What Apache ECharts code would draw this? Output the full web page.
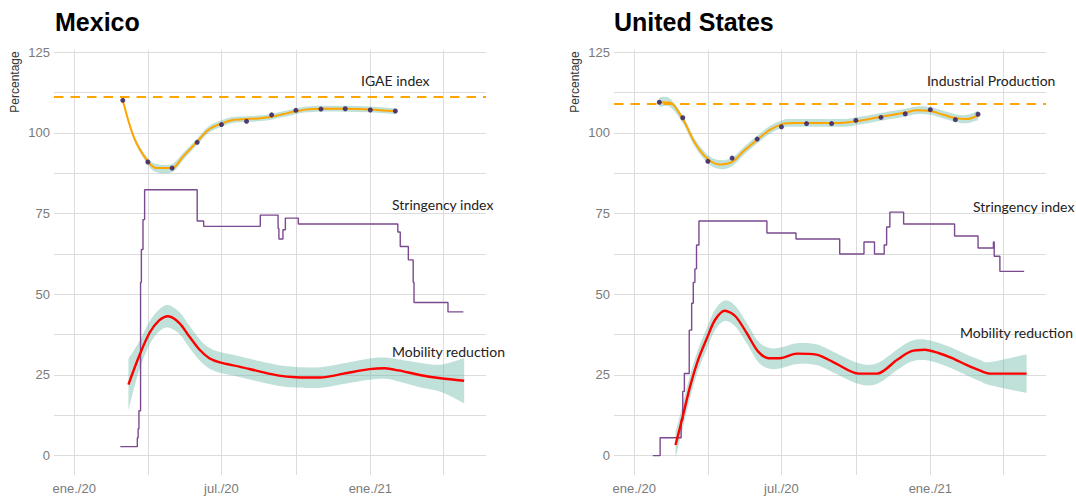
<!DOCTYPE html>
<html>
<head>
<meta charset="utf-8">
<title>Mexico / United States</title>
<script src="https://cdn.jsdelivr.net/npm/echarts@6.0.0/dist/echarts.min.js"></script>
<style>
    html, body { margin: 0; padding: 0; background: #fff; }
    #chart { width: 1076px; height: 500px; }
</style>
</head>
<body>
<div id="chart"></div>
<script>
// ---- axes
const xMin = '2019-12-07';
const xMax = '2021-05-24';
const xTickDates = ['2020-01-01', '2020-04-01', '2020-07-01', '2020-10-01', '2021-01-01', '2021-04-01'];
const xLabelDates = ['2020-01-01', '2020-07-01', '2021-01-01'];
const xLabelText = ['ene./20', 'jul./20', 'ene./21'];
const yTicks = [0, 12.5, 25, 37.5, 50, 62.5, 75, 87.5, 100, 112.5, 125];
const yLabels = [0, 25, 50, 75, 100, 125];

// ---- Mexico
const mxIgaeDates = ['2020-03-01', '2020-04-01', '2020-05-01', '2020-06-01', '2020-07-01', '2020-08-01',
    '2020-09-01', '2020-10-01', '2020-11-01', '2020-12-01', '2021-01-01', '2021-02-01'];
const mxIgae = [110.1, 91.0, 89.1, 97.1, 102.6, 103.6, 105.6, 107.0, 107.4, 107.5, 107.1, 106.8];
const mxIgaeRef = 111.2;
const mxFitDates = ['2020-03-01', '2020-03-15', '2020-04-01', '2020-04-12', '2020-05-01', '2020-05-15',
    '2020-06-01', '2020-06-15', '2020-07-01', '2020-07-15', '2020-08-01', '2020-08-15', '2020-09-01',
    '2020-09-15', '2020-10-01', '2020-10-15', '2020-11-01', '2020-12-01', '2021-01-01', '2021-02-01'];
const mxFit = [110.1, 98.5, 91.2, 89.1, 89.1, 92.8, 97.3, 101.0, 102.9, 104.0, 104.3, 104.5, 105.0,
    105.8, 106.7, 107.3, 107.5, 107.5, 107.3, 106.7];
const mxFitSe = [0.3, 0.8, 1.0, 1.3, 1.3, 1.1, 1.0, 1.0, 1.0, 0.9, 0.9, 0.9, 0.9, 0.9, 0.9, 0.9, 0.9, 0.9, 0.9, 0.9];

const mxStrDates = ['2020-02-27', '2020-03-19', '2020-03-20', '2020-03-21', '2020-03-23', '2020-03-24',
    '2020-03-26', '2020-03-28', '2020-06-01', '2020-06-09', '2020-08-18', '2020-09-09', '2020-09-10',
    '2020-09-15', '2020-09-18', '2020-10-04', '2021-02-04', '2021-02-07', '2021-02-17', '2021-02-23',
    '2021-02-24', '2021-04-07', '2021-04-26'];
const mxStr = [2.78, 5.56, 8.33, 13.89, 53.7, 63.89, 73.15, 82.41, 72.69, 71.06, 74.54, 70.37, 67.13,
    70.0, 73.61, 71.76, 69.3, 64.81, 60.65, 53.7, 47.45, 44.54, 44.54];

const mxMobDates = ['2020-03-08', '2020-03-21', '2020-04-03', '2020-04-15', '2020-04-26', '2020-05-10',
    '2020-05-22', '2020-06-04', '2020-06-16', '2020-06-29', '2020-07-23', '2020-08-17', '2020-09-10',
    '2020-10-01', '2020-10-31', '2020-11-29', '2020-12-31', '2021-01-19', '2021-02-05', '2021-03-03',
    '2021-03-29', '2021-04-27'];
const mxMob = [22.0, 30.7, 38.0, 41.9, 43.2, 41.1, 37.0, 32.8, 30.2, 28.9, 27.6, 26.1, 24.8, 24.3, 24.2,
    25.4, 26.8, 27.1, 26.4, 25.0, 24.0, 23.2];
const mxMobSe = [8.0, 4.5, 3.6, 3.4, 3.5, 3.4, 3.4, 3.3, 3.2, 3.2, 3.2, 3.2, 3.2, 3.2, 3.2, 3.2, 3.3, 3.3,
    3.4, 3.8, 4.2, 7.0];

// ---- United States
const usIgaeDates = ['2020-02-01', '2020-03-01', '2020-04-01', '2020-05-01', '2020-06-01', '2020-07-01',
    '2020-08-01', '2020-09-01', '2020-10-01', '2020-11-01', '2020-12-01', '2021-01-01', '2021-02-01', '2021-03-01'];
const usIgae = [109.5, 104.7, 91.2, 92.2, 98.1, 101.9, 102.9, 102.9, 103.9, 104.8, 105.9, 107.2, 104.1, 105.8];
const usIgaeRef = 109.1;
const usFitDates = ['2020-02-01', '2020-02-14', '2020-03-01', '2020-03-16', '2020-04-01', '2020-04-16',
    '2020-05-01', '2020-05-15', '2020-06-01', '2020-06-17', '2020-07-03', '2020-07-16', '2020-09-11',
    '2020-10-01', '2020-11-01', '2020-12-01', '2020-12-15', '2021-01-01', '2021-01-15', '2021-02-01',
    '2021-02-15', '2021-03-01'];
const usFit = [109.5, 109.4, 104.3, 96.9, 91.9, 90.2, 91.0, 94.3, 97.9, 101.0, 102.8, 103.1, 103.1,
    103.6, 105.0, 106.3, 107.0, 106.8, 105.8, 104.6, 104.3, 105.4];
const usFitSe = [1.5, 1.3, 1.2, 1.2, 1.3, 1.4, 1.3, 1.2, 1.2, 1.2, 1.2, 1.2, 1.2, 1.2, 1.2, 1.2, 1.2,
    1.2, 1.2, 1.2, 1.3, 1.5];

const usStrDates = ['2020-01-24', '2020-02-02', '2020-02-28', '2020-03-01', '2020-03-03', '2020-03-09',
    '2020-03-12', '2020-03-14', '2020-03-16', '2020-03-18', '2020-03-21', '2020-06-13', '2020-07-19',
    '2020-09-11', '2020-10-11', '2020-10-24', '2020-11-05', '2020-11-08', '2020-11-12', '2020-11-29',
    '2021-01-31', '2021-03-01', '2021-03-20', '2021-03-21', '2021-03-28', '2021-04-27'];
const usStr = [0, 5.56, 11.11, 19.91, 25.46, 38.89, 47.22, 53.7, 57.87, 65.28, 72.69, 68.98, 67.13,
    62.5, 66.2, 62.5, 65.28, 70.83, 75.46, 71.76, 68.06, 64.35, 66.2, 61.8, 57.1, 57.1];

const usMobDates = ['2020-02-21', '2020-02-28', '2020-03-10', '2020-03-20', '2020-03-31', '2020-04-10',
    '2020-04-22', '2020-05-05', '2020-05-19', '2020-06-02', '2020-06-15', '2020-06-29', '2020-07-20',
    '2020-08-13', '2020-09-03', '2020-10-05', '2020-10-27', '2020-11-21', '2020-12-08', '2020-12-25',
    '2021-01-11', '2021-01-28', '2021-02-14', '2021-03-03', '2021-03-16', '2021-04-30'];
const usMob = [3.3, 10.1, 21.4, 29.7, 36.5, 42.1, 44.9, 43.2, 38.0, 32.3, 30.2, 30.2, 31.6, 31.3, 29.0,
    25.4, 25.4, 29.7, 32.3, 32.8, 31.8, 30.2, 28.2, 26.4, 25.4, 25.4];
const usMobSe = [4.0, 3.8, 3.5, 3.3, 3.2, 3.2, 3.2, 3.2, 3.2, 3.2, 3.2, 3.2, 3.2, 3.2, 3.2, 3.2, 3.2,
    3.2, 3.2, 3.2, 3.2, 3.2, 3.2, 3.3, 3.6, 6.0];

// ---- styling
const BAND = 'rgba(94,180,160,0.4)';
const ORANGE = '#FFA500';
const PURPLE = '#7b4a8e';
const DOT = '#3d2a68';
const GRID = '#dcdcdc';
const SANS = '"Liberation Sans", Arial, sans-serif';
const NOTE = 'Lato, "Open Sans", sans-serif';

// dates are placed on a numeric axis as timestamps
function ts(s) {
    const p = s.split('-').map(Number);
    return Date.UTC(p[0], p[1] - 1, p[2]);
}
function pairs(dates, vals) {
    return dates.map((d, i) => [ts(d), vals[i]]);
}

// smooth path through pixel points (catmull-rom as cubic bezier)
function curveTo(pts) {
    let d = '';
    const n = pts.length;
    for (let i = 0; i < n - 1; i++) {
        const p0 = pts[Math.max(i - 1, 0)], p1 = pts[i], p2 = pts[i + 1], p3 = pts[Math.min(i + 2, n - 1)];
        const c1 = [p1[0] + (p2[0] - p0[0]) / 6, p1[1] + (p2[1] - p0[1]) / 6];
        const c2 = [p2[0] - (p3[0] - p1[0]) / 6, p2[1] - (p3[1] - p1[1]) / 6];
        d += ' C' + c1.join(' ') + ' ' + c2.join(' ') + ' ' + p2.join(' ');
    }
    return d;
}

// confidence ribbon: upper edge forward, lower edge back
function band(dates, vals, se, idx) {
    const rows = dates.map((d, i) => [ts(d), vals[i] - se[i], vals[i] + se[i]]);
    return {
        type: 'custom', xAxisIndex: idx, yAxisIndex: idx, z: 1, silent: true,
        encode: { x: 0, y: [1, 2] },
        data: rows,
        renderItem: function (params, api) {
            if (params.dataIndex !== 0) return;
            const upper = rows.map(r => api.coord([r[0], r[2]]));
            const lower = rows.map(r => api.coord([r[0], r[1]])).reverse();
            const path = 'M' + upper[0].join(' ') + curveTo(upper)
                + ' L' + lower[0].join(' ') + curveTo(lower) + ' Z';
            return {
                type: 'path',
                shape: { pathData: path, layout: 'center' },
                style: { fill: BAND, stroke: null }
            };
        }
    };
}

function panelSeries(idx, p) {
    return [
        band(p.fitDates, p.fit, p.fitSe, idx),
        band(p.mobDates, p.mob, p.mobSe, idx),
        {
            type: 'line', xAxisIndex: idx, yAxisIndex: idx, z: 2, silent: true,
            step: 'end', symbol: 'none',
            lineStyle: { color: PURPLE, width: 1.4 },
            data: pairs(p.strDates, p.str)
        }, {
            type: 'line', xAxisIndex: idx, yAxisIndex: idx, z: 3, silent: true,
            smooth: 0.3, symbol: 'none',
            lineStyle: { color: ORANGE, width: 2 },
            data: pairs(p.fitDates, p.fit),
            markLine: {
                silent: true, symbol: 'none', label: { show: false },
                lineStyle: { color: ORANGE, type: [9.5, 7], width: 2 },
                data: [{ yAxis: p.ref }]
            }
        }, {
            type: 'line', xAxisIndex: idx, yAxisIndex: idx, z: 3, silent: true,
            smooth: 0.3, symbol: 'none',
            lineStyle: { color: '#ff0000', width: 2.4 },
            data: pairs(p.mobDates, p.mob)
        }, {
            type: 'scatter', xAxisIndex: idx, yAxisIndex: idx, z: 4, silent: true,
            symbolSize: 5, itemStyle: { color: DOT, opacity: 0.9 },
            data: pairs(p.igaeDates, p.igae)
        }
    ];
}

function xAxis(idx) {
    return {
        type: 'value', gridIndex: idx, min: ts(xMin), max: ts(xMax),
        axisLine: { show: false }, axisTick: { show: false, customValues: xTickDates.map(ts) },
        splitLine: { show: true, lineStyle: { color: GRID, width: 1 } },
        axisLabel: {
            customValues: xLabelDates.map(ts), margin: 7,
            color: '#7a7a7a', fontFamily: SANS, fontSize: 13,
            formatter: function (v) {
                const i = xLabelDates.map(ts).indexOf(v);
                return i >= 0 ? xLabelText[i] : '';
            }
        }
    };
}
function yAxis(idx) {
    return {
        type: 'value', gridIndex: idx, min: -6, max: 125.7,
        axisLine: { show: false }, axisTick: { show: false, customValues: yTicks },
        splitLine: { show: true, lineStyle: { color: GRID, width: 1 } },
        axisLabel: { customValues: yLabels, margin: 4, color: '#7a7a7a', fontFamily: SANS, fontSize: 13 }
    };
}

function text(x, y, str, font, fill, align, rotation) {
    return {
        type: 'text', x: x, y: y, silent: true, z: 10, rotation: rotation || 0,
        style: { text: str, font: font, fill: fill, textAlign: align || 'left', textVerticalAlign: 'middle' }
    };
}

const chart = echarts.init(document.getElementById('chart'), null, { renderer: 'svg' });
chart.setOption({
    animation: false,
    backgroundColor: '#fff',
    grid: [
        { left: 54, top: 50, width: 432, height: 425 },
        { left: 614, top: 50, width: 432, height: 425 }
    ],
    xAxis: [xAxis(0), xAxis(1)],
    yAxis: [yAxis(0), yAxis(1)],
    series: [].concat(
        panelSeries(0, {
            igaeDates: mxIgaeDates, igae: mxIgae, ref: mxIgaeRef,
            fitDates: mxFitDates, fit: mxFit, fitSe: mxFitSe,
            strDates: mxStrDates, str: mxStr,
            mobDates: mxMobDates, mob: mxMob, mobSe: mxMobSe
        }),
        panelSeries(1, {
            igaeDates: usIgaeDates, igae: usIgae, ref: usIgaeRef,
            fitDates: usFitDates, fit: usFit, fitSe: usFitSe,
            strDates: usStrDates, str: usStr,
            mobDates: usMobDates, mob: usMob, mobSe: usMobSe
        })
    ),
    graphic: [
        text(55, 21.5, 'Mexico', 'bold 25px ' + SANS, '#000'),
        text(614, 21.5, 'United States', 'bold 25px ' + SANS, '#000'),
        text(15, 82, 'Percentage', '12px ' + SANS, '#333', 'center', Math.PI / 2),
        text(575, 82, 'Percentage', '12px ' + SANS, '#333', 'center', Math.PI / 2),
        text(361, 80, 'IGAE index', '14px ' + NOTE, '#222'),
        text(392, 204, 'Stringency index', '14px ' + NOTE, '#222'),
        text(392, 351, 'Mobility reduction', '14px ' + NOTE, '#222'),
        text(927, 80, 'Industrial Production', '14px ' + NOTE, '#222'),
        text(973, 206.5, 'Stringency index', '14px ' + NOTE, '#222'),
        text(960, 332.5, 'Mobility reduction', '14px ' + NOTE, '#222')
    ]
});
window.addEventListener('resize', function () {
    chart.resize();
});
</script>
</body>
</html>
